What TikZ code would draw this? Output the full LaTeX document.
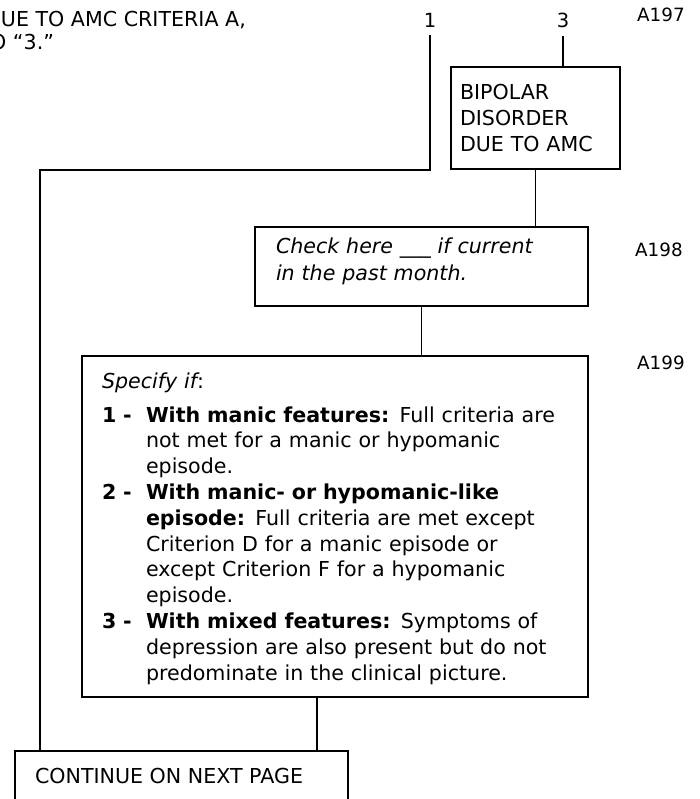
\documentclass[tikz,border=0pt]{standalone}
\usepackage{fontspec}
\setmainfont{DejaVu Sans}
\begin{document}
\begin{tikzpicture}[x=1pt,y=-1pt,
  boxn/.style={draw=black,line width=1.8pt,inner sep=0pt},
  conn/.style={draw=black,line width=1.3pt},
  txt/.style={inner sep=0pt,outer sep=0pt,font=\fontsize{20.6}{25.8}\selectfont},
  lbl/.style={inner xsep=0pt,inner ysep=7.5pt,outer sep=0pt,anchor=base,font=\fontsize{19.5}{23}\selectfont},
  code/.style={inner sep=0pt,anchor=base west,font=\fontsize{18.3}{22}\selectfont}]
\useasboundingbox (0,0) rectangle (699,799);
\clip (0,0) rectangle (699,799);

% top-left clipped text
\node[txt,anchor=base west] (tl1) at (1,26.8) {UE TO AMC CRITERIA A,};
\node[txt,anchor=base east] (tl2) at (54,50) {O “3.”};

% labels
\node[lbl] (n1) at (430,28) {1};
\node[lbl] (n3) at (563,28) {3};
\node[code] (a197) at (637,22) {A197};
\node[code] (a198) at (635,257) {A198};
\node[code] (a199) at (637,369) {A199};

% boxes
\node[boxn,minimum width=169pt,minimum height=102pt] (bip) at (535.5,118) {};
\node[boxn,minimum width=333pt,minimum height=79pt] (chk) at (421.5,266.5) {};
\node[boxn,minimum width=506pt,minimum height=341pt] (spec) at (335,526.5) {};
\node[boxn,minimum width=333pt,minimum height=100pt] (cont) at (181.5,801) {};

% box texts
\node[txt,anchor=base west,text width=160pt] (bipt) at (460,100)
  {BIPOLAR\\DISORDER\\DUE TO AMC};
\node[txt,anchor=base west,text width=310pt,font=\fontsize{20.6}{26.8}\selectfont] (chkt) at (276,254)
  {\itshape Check here \_\_\_ if current\\in the past month.};
\node[txt,anchor=base west,text width=470pt] (spect) at (102,388)
  {{\itshape Specify if}:\par\vspace{8.2pt}%
   \hangindent=44pt\hangafter=1\noindent\makebox[44pt][l]{\textbf{1 -}}\textbf{With manic features:} Full criteria are\newline
   not met for a manic or hypomanic\newline
   episode.\par
   \hangindent=44pt\hangafter=1\noindent\makebox[44pt][l]{\textbf{2 -}}\textbf{With manic- or hypomanic-like}\newline
   \textbf{episode:} Full criteria are met except\newline
   Criterion D for a manic episode or\newline
   except Criterion F for a hypomanic\newline
   episode.\par
   \hangindent=44pt\hangafter=1\noindent\makebox[44pt][l]{\textbf{3 -}}\textbf{With mixed features:} Symptoms of\newline
   depression are also present but do not\newline
   predominate in the clinical picture.\par};
\node[txt,anchor=base west] (contt) at (35,783) {CONTINUE ON NEXT PAGE};

% connectors
\coordinate (c1) at (40,170);
\draw[conn] (n1.south) |- (c1) -- (c1 |- cont.north);
\draw[conn] (n3.south) -- (n3.south |- bip.north);
\draw[conn] (bip.south) -- (bip.south |- chk.north);
\draw[conn] (chk.south) -- (chk.south |- spec.north);
\draw[conn] ([xshift=-18pt]spec.south) -- ([xshift=-18pt]spec.south |- cont.north);
\end{tikzpicture}
\end{document}
